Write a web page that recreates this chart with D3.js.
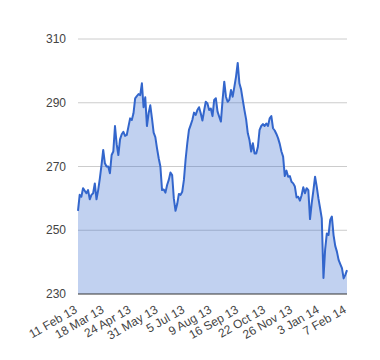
<!DOCTYPE html>
<html><head><meta charset="utf-8">
<script src="https://cdn.jsdelivr.net/npm/d3@7"></script>
<style>body{margin:0;background:#fff}svg{display:block}</style>
</head><body>
<script>
const tickLabels = ["11 Feb 13","18 Mar 13","24 Apr 13","31 May 13","5 Jul 13","9 Aug 13","16 Sep 13","22 Oct 13","26 Nov 13","3 Jan 14","7 Feb 14"];
const yTicks = [230,250,270,290,310];
const values = [
256.1,261.1,260.5,263.2,262.4,261.6,262.6,259.7,261.1,261.6,264.7,259.7,262.6,266.3,270.5,275.2,
271,270,270,267.9,273.6,274.7,282.7,277,273.6,278.5,280.1,280.9,279.6,279.9,282.5,285.1,
284.6,286.7,291.4,292.1,292.7,292.4,296.1,288.6,291.7,282.7,286.7,289.2,285.1,280.6,279.2,275.7,
272.6,270,262.6,262.8,261.8,264.2,265.8,268.1,267.3,260,256.1,258.2,261.4,261.1,262.1,265.8,
272.2,277.3,281.5,283,284.6,286.9,286.2,287.7,288.6,286.7,284.4,287.5,290.3,289.8,287.7,288.2,
285.8,290.9,291.4,287.2,285.6,284.1,290.9,296.6,291.9,290.3,290.9,294,291.9,295,298.2,302.5,
296.1,294.2,290.9,287.7,284.8,280.4,278.3,274.7,277.3,274.1,274.1,276.2,281.5,282.7,283.3,282.7,
283.5,282.7,285.1,285.8,282,281.3,280.2,278.9,277.1,274.7,273.1,267,268.7,266.8,267,265.2,
264.7,263.7,260.3,260.5,259.3,261,263.5,261.6,263.2,262.6,253.5,258.4,262.4,266.8,263.7,260,
256.9,253.7,235,244,249,248.5,253.2,254.3,248.5,245.1,243.3,240.7,239.4,238.1,234.9,236,237.5];

const W = 380, H = 360;
const svg = d3.select("body").append("svg").attr("width", W).attr("height", H);
const x = d3.scaleLinear().domain([0, values.length - 1]).range([78, 347]);
const y = d3.scaleLinear().domain([230, 310]).range([294, 39]);
const font = "Arial, 'Liberation Sans', sans-serif";

// gridlines
svg.append("g").selectAll("line").data(yTicks.filter(d => d !== 230)).join("line")
  .attr("x1", 78).attr("x2", 347).attr("y1", d => y(d)).attr("y2", d => y(d))
  .attr("stroke", "#cccccc").attr("stroke-width", 1);

// y labels
svg.append("g").selectAll("text").data(yTicks).join("text")
  .attr("x", 66).attr("y", d => y(d)).attr("dy", "0.35em")
  .attr("text-anchor", "end").attr("font-family", font).attr("font-size", 12)
  .attr("fill", "#444").text(d => d);

// area + line
const area = d3.area().x((d, i) => x(i)).y0(y(230)).y1(d => y(d));
const line = d3.line().x((d, i) => x(i)).y(d => y(d));
svg.append("path").datum(values).attr("d", area).attr("fill", "#3366cc").attr("fill-opacity", 0.3);
svg.append("path").datum(values).attr("d", line).attr("fill", "none")
  .attr("stroke", "#3366cc").attr("stroke-width", 2).attr("stroke-linejoin", "round");

// baseline
svg.append("line").attr("x1", 78).attr("x2", 347).attr("y1", y(230)).attr("y2", y(230))
  .attr("stroke", "#333").attr("stroke-width", 1);

// x labels
const step = (values.length - 1) / (tickLabels.length - 1);
svg.append("g").selectAll("text").data(tickLabels).join("text")
  .attr("transform", (d, i) => `translate(${x(i * step)},312) rotate(-30)`)
  .attr("text-anchor", "end").attr("font-family", font).attr("font-size", 12)
  .attr("fill", "#444").text(d => d);
</script>
</body></html>
